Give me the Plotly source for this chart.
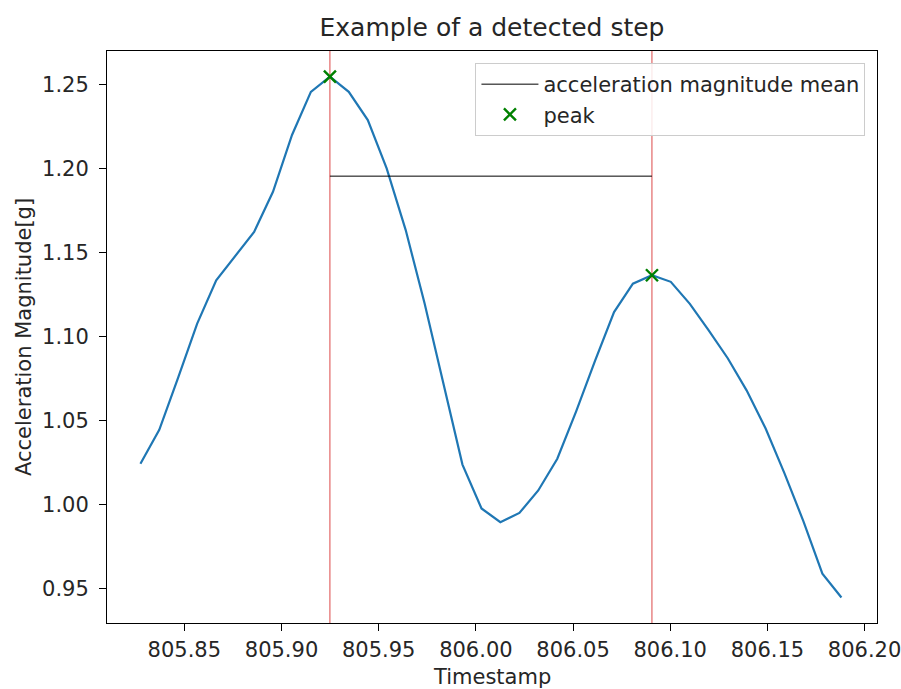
import plotly.graph_objects as go

# Timestamps (s) and acceleration magnitude (g)
timestamps = [805.8274, 805.8371, 805.8469, 805.8566, 805.8664, 805.8761, 805.8859, 805.8956,
              805.9054, 805.9151, 805.9249, 805.9346, 805.9444, 805.9541, 805.9639, 805.9736,
              805.9834, 805.9931, 806.0029, 806.0126, 806.0224, 806.0321, 806.0419, 806.0516,
              806.0614, 806.0711, 806.0808, 806.0906, 806.1003, 806.1101, 806.1198, 806.1296,
              806.1393, 806.1491, 806.1588, 806.1686, 806.1783, 806.1881]
acc_mag = [1.0241, 1.0443, 1.0757, 1.1075, 1.1333, 1.1477, 1.1621, 1.1860,
           1.2198, 1.2455, 1.2545, 1.2455, 1.2287, 1.1999, 1.1632, 1.1196,
           1.0720, 1.0236, 0.9975, 0.9893, 0.9948, 1.0082, 1.0271, 1.0553,
           1.0857, 1.1144, 1.1313, 1.1363, 1.1324, 1.1193, 1.1035, 1.0869,
           1.0678, 1.0451, 1.0184, 0.9897, 0.9587, 0.9445]

peak_times = [805.9249, 806.0906]
peak_values = [1.2545, 1.1363]
mean_value = 1.1953

x_ticks = [805.85, 805.90, 805.95, 806.00, 806.05, 806.10, 806.15, 806.20]
y_ticks = [0.95, 1.00, 1.05, 1.10, 1.15, 1.20, 1.25]

FONT = "DejaVu Sans"
TXT = "#262626"
W, H = 901, 689
ML, MR, MT, MB = 107, 24, 51, 66
PW, PH = W - ML - MR, H - MT - MB

fig = go.Figure()

fig.add_trace(go.Scatter(
    x=timestamps, y=acc_mag, mode="lines",
    line=dict(color="#1f77b4", width=2.2),
    showlegend=False, name="acceleration magnitude"))

fig.add_trace(go.Scatter(
    x=peak_times, y=[mean_value, mean_value], mode="lines",
    line=dict(color="black", width=1),
    name="acceleration magnitude mean"))

fig.add_trace(go.Scatter(
    x=peak_times, y=peak_values, mode="markers",
    marker=dict(symbol="x-thin-open", color="green", size=12,
                line=dict(color="green", width=2.4)),
    name="peak"))

for t in peak_times:
    fig.add_vline(x=t, line=dict(color="rgba(214,40,40,0.85)", width=1), layer="below")

axis_common = dict(
    showgrid=False, zeroline=False, showline=True, linecolor="black", linewidth=1,
    mirror=True, ticks="outside", ticklen=7, tickwidth=1, tickcolor="black",
    tickfont=dict(family=FONT, size=21, color=TXT), automargin=False,
    ticklabeloverflow="allow",
)

fig.update_xaxes(**axis_common, range=[805.8102, 806.2064], tickvals=x_ticks,
                 tickformat=".2f", ticklabelstandoff=1)
fig.update_yaxes(**axis_common, range=[0.9293, 1.2698], tickvals=y_ticks,
                 tickformat=".2f", ticklabelstandoff=6)

# axis titles placed like matplotlib's labels
fig.add_annotation(text="Timestamp", xref="paper", yref="paper",
                   x=0.5, y=-(677 - (MT + PH)) / PH, xanchor="center", yanchor="middle",
                   showarrow=False, font=dict(family=FONT, size=21, color=TXT))
fig.add_annotation(text="Acceleration Magnitude[g]", xref="paper", yref="paper",
                   x=(24 - ML) / PW, y=0.5, xanchor="center", yanchor="middle",
                   textangle=-90, showarrow=False,
                   font=dict(family=FONT, size=21, color=TXT))

fig.update_layout(
    template="none",
    width=W, height=H,
    margin=dict(l=ML, r=MR, t=MT, b=MB, pad=0),
    paper_bgcolor="white", plot_bgcolor="white",
    font=dict(family=FONT, size=21, color=TXT),
    title=dict(text="Example of a detected step", x=0.5, xanchor="center",
               xref="paper", yref="container", y=1 - 27 / H, yanchor="middle",
               font=dict(family=FONT, size=25, color=TXT)),
    legend=dict(x=0.985, y=0.979, xanchor="right", yanchor="top",
                bgcolor="rgba(255,255,255,0.85)", bordercolor="#cccccc", borderwidth=1,
                font=dict(family=FONT, size=21, color=TXT),
                itemwidth=57, tracegroupgap=4),
    showlegend=True,
)

fig.write_html(
    "out.html",
    config={"displayModeBar": False},
    post_script="document.body.style.margin='0';document.body.style.overflow='hidden';",
)
